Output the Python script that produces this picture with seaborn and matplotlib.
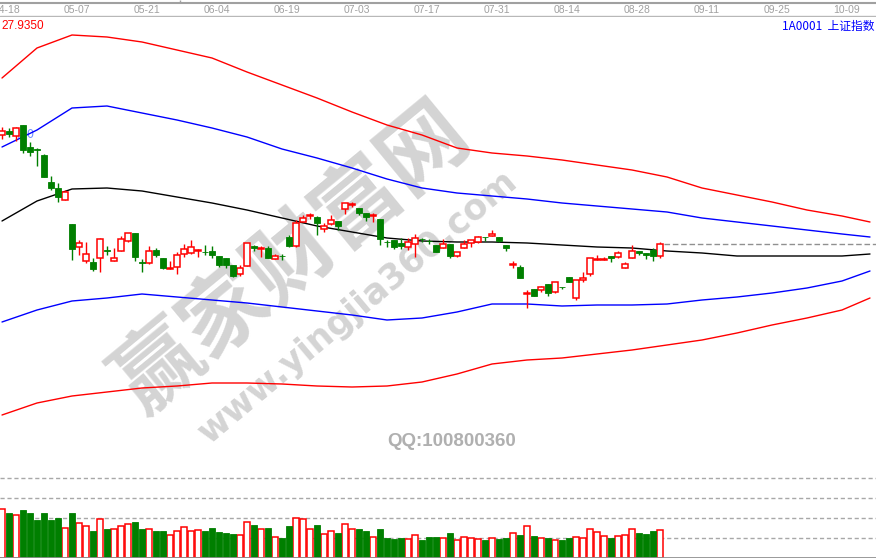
import numpy as np
import pandas as pd
import seaborn as sns
import matplotlib.pyplot as plt

# tick labels along the top strip
dates = ["04-18", "05-07", "05-21", "06-04", "06-19", "07-03", "07-17",
         "07-31", "08-14", "08-28", "09-11", "09-25", "10-09"]

# daily candles (index level units)
opens = [365, 369, 364, 375, 353, 351, 345, 318, 312, 300,
         276, 253, 239, 238, 242, 250, 239, 249, 259, 267,
         238, 237, 250, 242, 231, 233, 246, 247, 249.5, 248.5,
         249, 244, 242, 235, 226, 234, 254, 251, 252, 241,
         244.5, 263, 254, 278, 284.5, 283, 271, 276, 279, 291,
         295.5, 292, 287, 284.5, 281, 258.5, 260, 257, 253, 256,
         261.5, 259.5, 255, 252, 256, 244, 252, 257, 258, 263.5,
         264, 263, 255, 235.5, 233, 206.5, 211, 210, 216, 208,
         213.5, 223, 202, 220, 226, 240.5, 240.5, 244, 243, 232,
         242, 249, 247, 250, 244]
highs = [373, 372, 373, 375, 358, 352, 346, 324, 317, 310,
         276, 260, 258, 242, 262, 254, 252, 264, 267, 267,
         241, 254, 252, 242, 239, 248, 256, 260, 251, 255,
         254, 244, 242, 235, 235, 257, 255, 254, 254, 246,
         246, 265, 280, 285, 287, 284, 277, 285, 279, 297,
         298, 292, 287, 287, 281, 260, 260, 262, 262, 266,
         262, 261, 255, 261, 256, 248, 260, 260, 264, 263.5,
         270, 263, 255, 239, 235, 210, 211, 214, 216, 218,
         213.5, 223, 220, 228, 242, 245, 243, 244, 249, 238,
         255, 249, 247, 252, 258]
lows = [361, 363, 359, 347, 344, 334, 323, 310, 298, 300,
        240, 245, 237, 229, 228, 245, 239, 249, 258, 239,
        228, 236, 243, 231, 231, 226, 243, 246, 243, 245,
        242, 233, 232, 223, 224, 234, 249, 243, 242, 241,
        240, 253, 253, 278, 281, 265, 268, 275, 270, 286,
        293, 285, 279, 278, 255, 253, 251, 251, 250, 243,
        258, 256, 248, 252, 242, 243, 252, 253, 257, 259,
        264, 258, 249, 232, 222, 192, 204, 208, 204, 207,
        211, 218, 200, 218, 224, 240, 240, 238, 242, 232,
        242, 245, 241, 239, 242]
closes = [369, 366, 372, 350, 348, 350, 323, 312, 303, 308,
          251, 257, 246, 231, 261, 249, 242, 261, 267, 243,
          237, 249, 245, 232, 232, 245, 251, 253, 250, 248,
          245, 235, 235, 224, 232, 257, 252, 252, 242, 244,
          244, 254, 277, 282, 285, 277, 274, 280, 274, 297,
          296, 287, 283, 285, 261, 258, 253, 254, 258, 262,
          261, 259, 248, 256, 244, 248, 256, 260, 263, 263,
          266, 259, 252, 236, 222, 207, 204, 213, 207, 218,
          213, 218, 220, 222, 242, 241, 241, 242, 247, 236,
          249, 247, 245, 244, 256]
volumes = [48.7, 45, 42.7, 48, 45, 38, 45, 38, 40, 29.7,
           45, 34.7, 31.7, 27, 38.7, 29, 28.7, 31.7, 33.7, 36,
           29, 28.7, 27, 27, 22.7, 26.7, 30.7, 26.7, 27.7, 27,
           30, 26, 25, 24, 22.7, 35.7, 33, 28.7, 30, 20.7,
           20, 32, 39.7, 38.7, 28.7, 33, 23.7, 26.7, 25, 33.7,
           28.7, 29, 27, 20.7, 29, 20, 19, 20, 18.7, 22.7,
           18, 21, 21, 19.7, 25, 17.7, 20.7, 19.7, 18.7, 18,
           19.7, 19, 20, 24.7, 23, 31.7, 22, 19.7, 20, 17.7,
           18, 20, 20.7, 19.7, 28.7, 25.7, 21.7, 20, 21.7, 22.7,
           28.7, 25, 24, 27, 27.7]

# band lines, sampled every 5 sessions (they run past the last candle)
band_idx = [0, 5, 10, 15, 20, 25, 30, 35, 40, 45, 50, 55, 60, 65, 70,
            75, 80, 85, 90, 95, 100, 105, 110, 115, 120, 124]
upper_outer = [422, 452, 465, 463, 458, 450, 442, 428, 415, 402, 388, 375, 365,
               352, 347, 344, 340, 335, 330, 323, 312, 305, 298, 290, 284, 278]
upper_inner = [353, 370, 392, 394, 387, 380, 372, 363, 351, 342, 332, 321, 312,
               307, 304, 301, 297, 294, 291, 288, 282, 278, 274, 270, 266, 263]
middle = [279, 299, 311, 312, 309, 303, 297, 290, 282, 274, 268, 262, 259,
          258, 258, 257, 255, 253, 252, 249, 247, 244, 244, 244, 244, 246]
lower_inner = [178, 190, 199, 202, 206, 203, 200, 197, 193, 189, 185, 180, 182,
               188, 196, 196, 194, 195, 195, 196, 200, 203, 207, 212, 219, 229]
lower_outer = [85, 97, 104, 108, 112, 114, 117, 117, 116, 114, 113, 114, 118,
               126, 136, 140, 142, 146, 150, 155, 160, 167, 175, 182, 190, 202]

sns.set_theme(style="white")
plt.rcParams['font.family'] = ['Noto Sans CJK SC', 'DejaVu Sans']

df = pd.DataFrame({"open": opens, "high": highs, "low": lows,
                   "close": closes, "volume": volumes})
df["idx"] = np.arange(len(df))
df["up"] = df["close"] >= df["open"]

bands = pd.DataFrame({"idx": band_idx, "uo": upper_outer, "ui": upper_inner,
                      "mid": middle, "li": lower_inner, "lo": lower_outer})

W, H = 876, 559
fig = plt.figure(figsize=(W / 100, H / 100), dpi=100)
fig.patch.set_facecolor("white")
xlim = (-2 / 7, (W - 2) / 7)

# price panel
ax = fig.add_axes([0, (H - 475) / H, 1, 458 / H])
ax.set_xlim(*xlim)
ax.set_ylim(25, 483)
ax.axis("off")

for col, c in [("uo", "#ff0000"), ("ui", "#0000ff"), ("mid", "#000000"),
               ("li", "#0000ff"), ("lo", "#ff0000")]:
    sns.lineplot(data=bands, x="idx", y=col, ax=ax, color=c, lw=1.0, zorder=2)

red = "#ff0000"
green = "#007f00"
bw = 0.8
ax.vlines(df["idx"], df["low"], df["high"],
          colors=np.where(df["up"], red, green), lw=1.0, zorder=3)
body_lo = np.minimum(df["open"], df["close"])
body_h = np.maximum(np.abs(df["close"] - df["open"]), 0.4)
up = df[df["up"]]
dn = df[~df["up"]]
ax.bar(up["idx"], body_h[df["up"]], bottom=body_lo[df["up"]], width=bw,
       facecolor="white", edgecolor=red, lw=1.1, zorder=4)
ax.bar(dn["idx"], body_h[~df["up"]], bottom=body_lo[~df["up"]], width=bw,
       facecolor=green, edgecolor=green, lw=0.6, zorder=4)

# last close reference line
ax.hlines(closes[-1], len(df) - 0.4, xlim[1], colors="#909090",
          linestyles=(0, (4, 2)), lw=1.0, zorder=2)

# watermark
ax.text(293 / W, 1 - 258 / H, "赢家财富网", transform=fig.transFigure,
        rotation=39.5, fontsize=62, fontweight="bold", color="#d4d4d4",
        ha="center", va="center", zorder=0.5)
ax.text(358 / W, 1 - 307 / H, "www.yingjia360.com", transform=fig.transFigure,
        rotation=40, fontsize=25, fontweight="bold", color="#d4d4d4",
        family=["DejaVu Sans"], ha="center", va="center", zorder=0.5)
ax.text(452 / W, 1 - 442 / H, "QQ:100800360", transform=fig.transFigure,
        fontsize=13.5, fontweight="bold", color="#b0b0b0",
        family=["Liberation Sans", "DejaVu Sans"], ha="center", va="center",
        zorder=0.5)
ax.text(14 / W, 1 - 135 / H, "450", transform=fig.transFigure, fontsize=9,
        color="#7090ff", ha="left", va="center", zorder=1)

# volume panel
axv = fig.add_axes([0, 1 / H, 1, 82 / H])
axv.set_xlim(*xlim)
axv.set_ylim(0, 82)
axv.axis("off")
for lvl in [20, 40, 60, 80]:
    axv.axhline(lvl, color="#a8a8a8", lw=1.0, ls=(0, (3, 2)), zorder=1)
axv.axhline(0, color="#909090", lw=2.0, zorder=5)
axv.bar(up["idx"], up["volume"], width=bw, facecolor="white",
        edgecolor=red, lw=1.1, zorder=3)
axv.bar(dn["idx"], dn["volume"], width=bw, facecolor=green,
        edgecolor=green, lw=0.6, zorder=3)

# top strip with dates
axt = fig.add_axes([0, (H - 17) / H, 1, 17 / H])
axt.set_xlim(*xlim)
axt.set_ylim(17, 0)
axt.axis("off")
axt.axhline(3, color="#a0a0a0", lw=1.5)
axt.axhline(15.5, color="#b8b8b8", lw=1.0)
axt.vlines(178 / 7, 0, 3, color="#a0a0a0", lw=1.0)
for k, d in enumerate(dates):
    axt.text(k * 10 + 0.7, 10, d, ha="center", va="center", fontsize=7.5,
             color="#a0a0a0", family=["Liberation Sans", "DejaVu Sans"])

fig.text(1 / W, 1 - 26 / H, "27.9350", fontsize=8.5, color="#ff0000",
         ha="left", va="center", family=["Liberation Sans", "DejaVu Sans"])
fig.text(875 / W, 1 - 26 / H, "1A0001  上证指数", fontsize=8.5, color="#0000ff",
         ha="right", va="center")

fig.savefig("out.png", dpi=100)
